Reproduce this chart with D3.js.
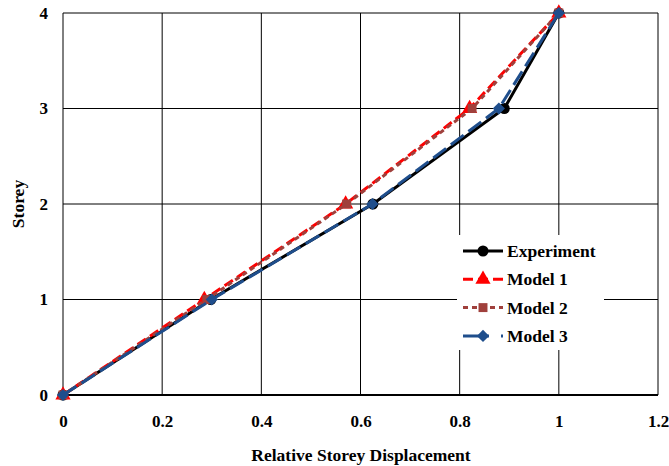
<!DOCTYPE html>
<html>
<head>
<meta charset="utf-8">
<script src="https://cdn.jsdelivr.net/npm/d3@7/dist/d3.min.js"></script>
<style>
  body { margin: 0; background: #fff; }
  text { font-family: "Liberation Serif", "Times New Roman", serif; font-weight: bold; }
</style>
</head>
<body>
<svg id="chart" width="669" height="466"></svg>
<script>
// storey levels and relative displacements
var storeys = [0, 1, 2, 3, 4];
var experiment = [0, 0.298, 0.625, 0.89, 1];
var model1 = [0, 0.285, 0.57, 0.82, 1];
var model2 = [0, 0.29, 0.572, 0.825, 1];
var model3 = [0, 0.30, 0.624, 0.879, 1];
var xTicks = [0, 0.2, 0.4, 0.6, 0.8, 1, 1.2];
var yTicks = [0, 1, 2, 3, 4];

var series = [
  { name: "Experiment", values: experiment, color: "#000000", dash: null, legDash: null, width: 3, sym: d3.symbolCircle, size: 95, rot: 0 },
  { name: "Model 1", values: model1, color: "#ff0000", dash: "10,5", legDash: "10,5", width: 3, sym: d3.symbolTriangle, size: 100, rot: 0 },
  { name: "Model 2", values: model2, color: "#a0403c", dash: "5,4", legDash: "5,4", width: 3, sym: d3.symbolSquare, size: 80, rot: 0 },
  { name: "Model 3", values: model3, color: "#1f4e8c", dash: "16,6", legDash: "26,12,2,10", width: 3, sym: d3.symbolSquare, size: 75, rot: 45 }
];

var svg = d3.select("#chart");
var m = { left: 63, top: 13, right: 11, bottom: 71 };
var w = 669 - m.left - m.right, h = 466 - m.top - m.bottom;

var x = d3.scaleLinear().domain([0, 1.2]).range([0, w]);
var y = d3.scaleLinear().domain([0, 4]).range([h, 0]);

var g = svg.append("g").attr("transform", "translate(" + m.left + "," + m.top + ")");

// grid
g.selectAll(".vg").data(xTicks).enter().append("line")
  .attr("x1", function(d) { return x(d); }).attr("x2", function(d) { return x(d); })
  .attr("y1", 0).attr("y2", h).attr("stroke", "#000").attr("stroke-width", 1);
g.selectAll(".hg").data(yTicks).enter().append("line")
  .attr("y1", function(d) { return y(d); }).attr("y2", function(d) { return y(d); })
  .attr("x1", 0).attr("x2", w).attr("stroke", "#000").attr("stroke-width", 1);
g.append("line").attr("x1", 0).attr("x2", w).attr("y1", h).attr("y2", h)
  .attr("stroke", "#000").attr("stroke-width", 2);

// axes (labels only)
var xAxis = g.append("g").attr("transform", "translate(0," + h + ")")
  .call(d3.axisBottom(x).tickValues(xTicks).tickSize(0).tickPadding(20).tickFormat(d3.format("")));
var yAxis = g.append("g")
  .call(d3.axisLeft(y).tickValues(yTicks).tickSize(0).tickPadding(15).tickFormat(d3.format("d")));
[xAxis, yAxis].forEach(function(a) {
  a.select(".domain").remove();
  a.selectAll("text").style("font-size", "17px").style("font-family", "Liberation Serif").style("font-weight", "bold").attr("fill", "#000");
});

// series
var line = d3.line()
  .x(function(d) { return x(d[0]); })
  .y(function(d) { return y(d[1]); });

series.forEach(function(s) {
  var pts = s.values.map(function(v, i) { return [v, storeys[i]]; });
  g.append("path").datum(pts).attr("d", line)
    .attr("fill", "none").attr("stroke", s.color).attr("stroke-width", s.width)
    .attr("stroke-dasharray", s.dash);
  g.selectAll(null).data(pts).enter().append("path")
    .attr("d", d3.symbol().type(s.sym).size(s.size))
    .attr("transform", function(d) { return "translate(" + x(d[0]) + "," + y(d[1]) + ") rotate(" + s.rot + ")"; })
    .attr("fill", s.color);
});

// legend
var lg = svg.append("g").attr("transform", "translate(457,235)");
lg.append("rect").attr("width", 147).attr("height", 115).attr("fill", "#fff");
series.forEach(function(s, i) {
  var row = lg.append("g").attr("transform", "translate(0," + (16 + i * 28.3) + ")");
  row.append("line").attr("x1", 6).attr("x2", 46).attr("y1", 0).attr("y2", 0)
    .attr("stroke", s.color).attr("stroke-width", s.width).attr("stroke-dasharray", s.legDash);
  row.append("path").attr("d", d3.symbol().type(s.sym).size(s.size))
    .attr("transform", "translate(26,0) rotate(" + s.rot + ")").attr("fill", s.color);
  row.append("text").attr("x", 50).attr("y", 6).text(s.name)
    .style("font-size", "17.5px").attr("fill", "#000");
});

// axis titles
svg.append("text").attr("x", 361).attr("y", 461).attr("text-anchor", "middle")
  .style("font-size", "17.5px").text("Relative Storey Displacement");
svg.append("text").attr("transform", "translate(24,204) rotate(-90)").attr("text-anchor", "middle")
  .style("font-size", "17.5px").text("Storey");
</script>
</body>
</html>
